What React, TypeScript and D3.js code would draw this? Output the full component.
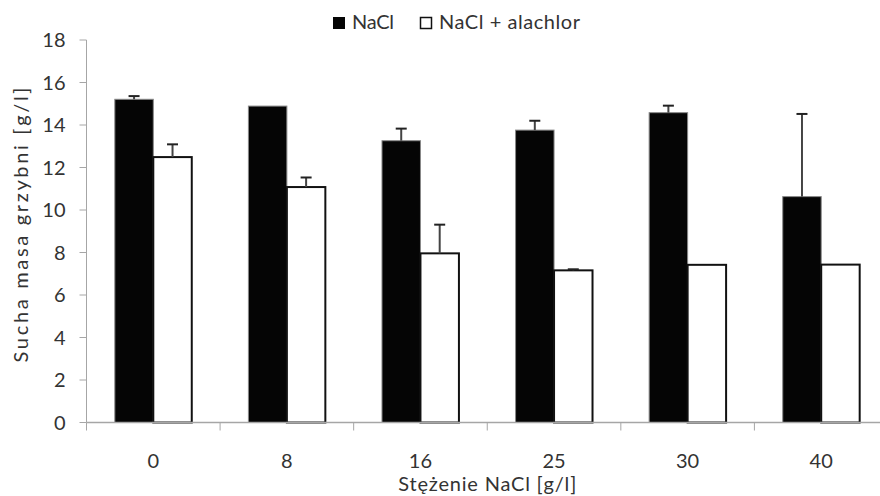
import React from 'react';
import * as d3 from 'd3';

const categories = ['0', '8', '16', '25', '30', '40'];
const seriesNames = ['NaCl', 'NaCl + alachlor'];
const naclValues = [15.21, 14.89, 13.26, 13.76, 14.58, 10.63];
const naclErrors = [0.15, 0, 0.57, 0.44, 0.33, 3.89];
const alachlorValues = [12.49, 11.08, 7.96, 7.16, 7.42, 7.43];
const alachlorErrors = [0.6, 0.45, 1.35, 0.05, 0, 0];
const yTicks = [0, 2, 4, 6, 8, 10, 12, 14, 16, 18];

const width = 880;
const height = 496;
const font = 'Lato, "Open Sans", sans-serif';
const textColor = '#333';
const axisColor = '#a6a6a6';

export default function App() {
  const left = 86.5, right = 888, top = 40, bottom = 422.5;

  const x0 = d3.scaleBand<string>()
    .domain(categories)
    .range([left, right])
    .paddingInner(0.424)
    .paddingOuter(0.212);
  const x1 = d3.scaleBand<string>()
    .domain(seriesNames)
    .range([0, x0.bandwidth()]);
  const y = d3.scaleLinear().domain([0, 18]).range([bottom, top]);

  const series = [
    { name: seriesNames[0], values: naclValues, errors: naclErrors, fill: '#050505', stroke: '#888', sw: 1 },
    { name: seriesNames[1], values: alachlorValues, errors: alachlorErrors, fill: '#fff', stroke: '#111', sw: 2 },
  ];

  const step = x0.step();

  return (
    <svg width={width} height={height} style={{ display: 'block', position: 'absolute', left: 0, top: 0 }}>
      <rect width={width} height={height} fill="#fff" />

      {/* legend */}
      <g fontFamily={font} fontSize={20} fill={textColor}>
        <rect x={333} y={17} width={12} height={12} fill="#050505" />
        <text x={352} y={29} textLength={42}>{seriesNames[0]}</text>
        <rect x={420.5} y={17.5} width={11} height={11} fill="#fff" stroke="#111" strokeWidth={1.5} />
        <text x={439} y={29} textLength={141}>{seriesNames[1]}</text>
      </g>

      {/* y axis */}
      <line x1={left} x2={left} y1={top} y2={bottom} stroke={axisColor} strokeWidth={1} />
      {yTicks.map(t => (
        <g key={t}>
          <line x1={left - 7} x2={left} y1={y(t)} y2={y(t)} stroke={axisColor} />
          <text x={left - 21} y={y(t)} dy="0.36em" textAnchor="end" fontFamily={font} fontSize={20} fill={textColor}>{t}</text>
        </g>
      ))}

      {/* bars */}
      {series.map(s => (
        <g key={s.name}>
          {categories.map((c, i) => {
            const bx = (x0(c) as number) + (x1(s.name) as number);
            return (
              <rect key={c} x={bx} y={y(s.values[i])} width={x1.bandwidth()}
                    height={y(0) - y(s.values[i])} fill={s.fill} stroke={s.stroke} strokeWidth={s.sw} />
            );
          })}
        </g>
      ))}

      {/* error bars */}
      {series.map(s => (
        <g key={s.name + '-err'} stroke="#222">
          {categories.map((c, i) => {
            if (!s.errors[i]) return null;
            const cx = (x0(c) as number) + (x1(s.name) as number) + x1.bandwidth() / 2;
            const y1 = y(s.values[i]);
            const y2 = y(s.values[i] + s.errors[i]);
            return (
              <g key={c}>
                <line x1={cx} x2={cx} y1={y1} y2={y2} strokeWidth={2} stroke="#444" />
                <line x1={cx - 5.5} x2={cx + 5.5} y1={y2} y2={y2} strokeWidth={2} />
              </g>
            );
          })}
        </g>
      ))}

      {/* x axis */}
      <line x1={left} x2={right} y1={bottom} y2={bottom} stroke={axisColor} strokeWidth={1.5} />
      {d3.range(categories.length + 1).map(i => (
        <line key={i} x1={left + i * step} x2={left + i * step} y1={bottom} y2={bottom + 8} stroke={axisColor} />
      ))}
      {categories.map(c => (
        <text key={c} x={(x0(c) as number) + x0.bandwidth() / 2} y={468} textAnchor="middle"
              fontFamily={font} fontSize={20} fill={textColor}>{c}</text>
      ))}

      {/* axis titles */}
      <text x={(left + right) / 2} y={491} textAnchor="middle" textLength={178} fontFamily={font} fontSize={20} fill={textColor}>
        Stężenie NaCl [g/l]
      </text>
      <text transform={`translate(28,225) rotate(-90)`} textAnchor="middle" textLength={275}
            fontFamily={font} fontSize={20} fill={textColor}>
        Sucha masa grzybni [g/l]
      </text>
    </svg>
  );
}
